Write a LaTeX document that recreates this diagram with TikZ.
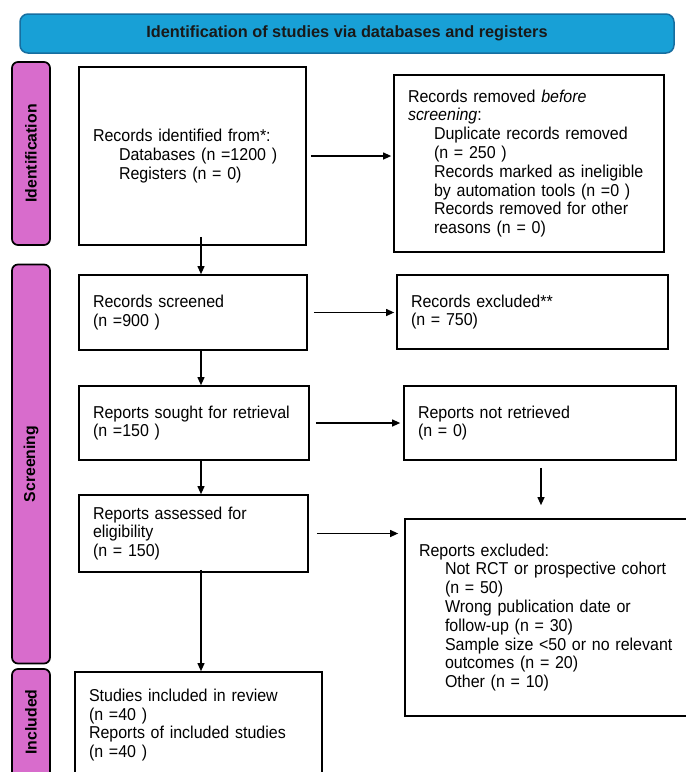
\documentclass[tikz,border=0pt]{standalone}
\usepackage{fontspec}
\setmainfont{Liberation Sans}[FakeStretch=0.93]
\newfontfamily\plainsans{Liberation Sans}
\usetikzlibrary{arrows.meta}
\definecolor{bannerfill}{RGB}{24,160,214}
\definecolor{bannerdraw}{RGB}{22,110,160}
\definecolor{sidefill}{RGB}{216,108,204}
\newcommand{\ind}{\hspace*{26pt}}
\begin{document}
\begin{tikzpicture}[x=1pt,y=-1pt,
  box/.style={draw=black, line width=1.7pt, fill=white, inner xsep=14pt, inner ysep=0pt,
    align=left, font=\fontsize{17.2}{18.8}\selectfont},
  banner/.style={draw=bannerdraw, line width=1.5pt, fill=bannerfill, rounded corners=8pt,
    minimum width=654pt, minimum height=39pt, inner sep=0pt,
    font=\plainsans\bfseries\fontsize{16.3}{18}\selectfont, text=black!90},
  sidebar/.style={draw=black, line width=1.7pt, fill=sidefill, rounded corners=6pt},
  sidelabel/.style={rotate=90, inner sep=0pt, font=\plainsans\bfseries\fontsize{15.8}{17}\selectfont},
  flow/.style={-{Triangle[length=8pt,width=7pt]}, line width=1.1pt, black}
]
\useasboundingbox (0,0) rectangle (686,772);
\clip (0,0) rectangle (686,772);
\fill[white] (0,0) rectangle (686,772);

% banner
\node[banner] (title) at (347,33.5) {Identification of studies via databases and registers};

% sidebars
\node[sidebar, sidelabel, minimum width=183pt, minimum height=38pt] (sideid) at (31,153.5) {Identification};
\node[sidebar, sidelabel, minimum width=399pt, minimum height=38pt] (sidescr) at (31,464) {Screening};
\draw[sidebar] (12,669) rectangle (50,800);
\node[sidelabel] (sideinc) at (31,722) {Included};

% boxes
\node[box, minimum width=227pt, text width=199pt, minimum height=178pt] (A) at (192.5,156)
  {Records identified from*:\\ \ind Databases (n =1200 )\\ \ind Registers (n = 0)};
\node[box, minimum width=270pt, text width=242pt, minimum height=177pt] (B) at (529,163.5)
  {Records removed \emph{before}\\ \emph{screening}:\\ \ind Duplicate records removed\\ \ind (n = 250 )\\
   \ind Records marked as ineligible\\ \ind by automation tools (n =0 )\\ \ind Records removed for other\\ \ind reasons (n = 0)};
\node[box, minimum width=228pt, text width=200pt, minimum height=75pt] (C) at (193,312.5)
  {Records screened\\ (n =900 )};
\node[box, minimum width=271pt, text width=243pt, minimum height=74pt] (D) at (532.5,312)
  {Records excluded**\\ (n = 750)};
\node[box, minimum width=230pt, text width=202pt, minimum height=74pt] (E) at (194,423)
  {Reports sought for retrieval\\ (n =150 )};
\node[box, minimum width=272pt, text width=244pt, minimum height=74pt] (F) at (540,423)
  {Reports not retrieved\\ (n = 0)};
\node[box, minimum width=229pt, text width=201pt, minimum height=77pt] (G) at (193.5,533.5)
  {Reports assessed for\\ eligibility\\ (n = 150)};
\node[box, minimum width=300pt, text width=272pt, minimum height=197pt] (H) at (555,617.5)
  {Reports excluded:\\ \ind Not RCT or prospective cohort\\ \ind (n = 50)\\ \ind Wrong publication date or\\
   \ind follow-up (n = 30)\\ \ind Sample size <50 or no relevant\\ \ind outcomes (n = 20)\\ \ind Other (n = 10)};
\node[box, minimum width=247pt, text width=219pt, minimum height=106pt] (I) at (198.5,725)
  {Studies included in review\\ (n =40 )\\ Reports of included studies\\ (n =40 )};

% helper coordinates
\coordinate (vx) at (201,0);
\coordinate (hx) at (541,0);

% horizontal connectors
\draw[flow, shorten <=4pt, shorten >=2pt] (A.east) -- (A.east -| B.west);
\draw[flow, shorten <=6pt, shorten >=2pt] (C.east) -- (C.east -| D.west);
\draw[flow, shorten <=6pt, shorten >=3pt] (E.east) -- (E.east -| F.west);
\draw[flow, shorten <=8pt, shorten >=6pt] (G.east) -- (G.east -| H.west);

% vertical connectors
\draw[flow, shorten <=-9pt] (A.south -| vx) -- (C.north -| vx);
\draw[flow] (C.south -| vx) -- (E.north -| vx);
\draw[flow] (E.south -| vx) -- (G.north -| vx);
\draw[flow, shorten <=-3pt] (G.south -| vx) -- (I.north -| vx);
\draw[flow, shorten <=7pt, shorten >=13pt] (F.south -| hx) -- (H.north -| hx);
\end{tikzpicture}
\end{document}
